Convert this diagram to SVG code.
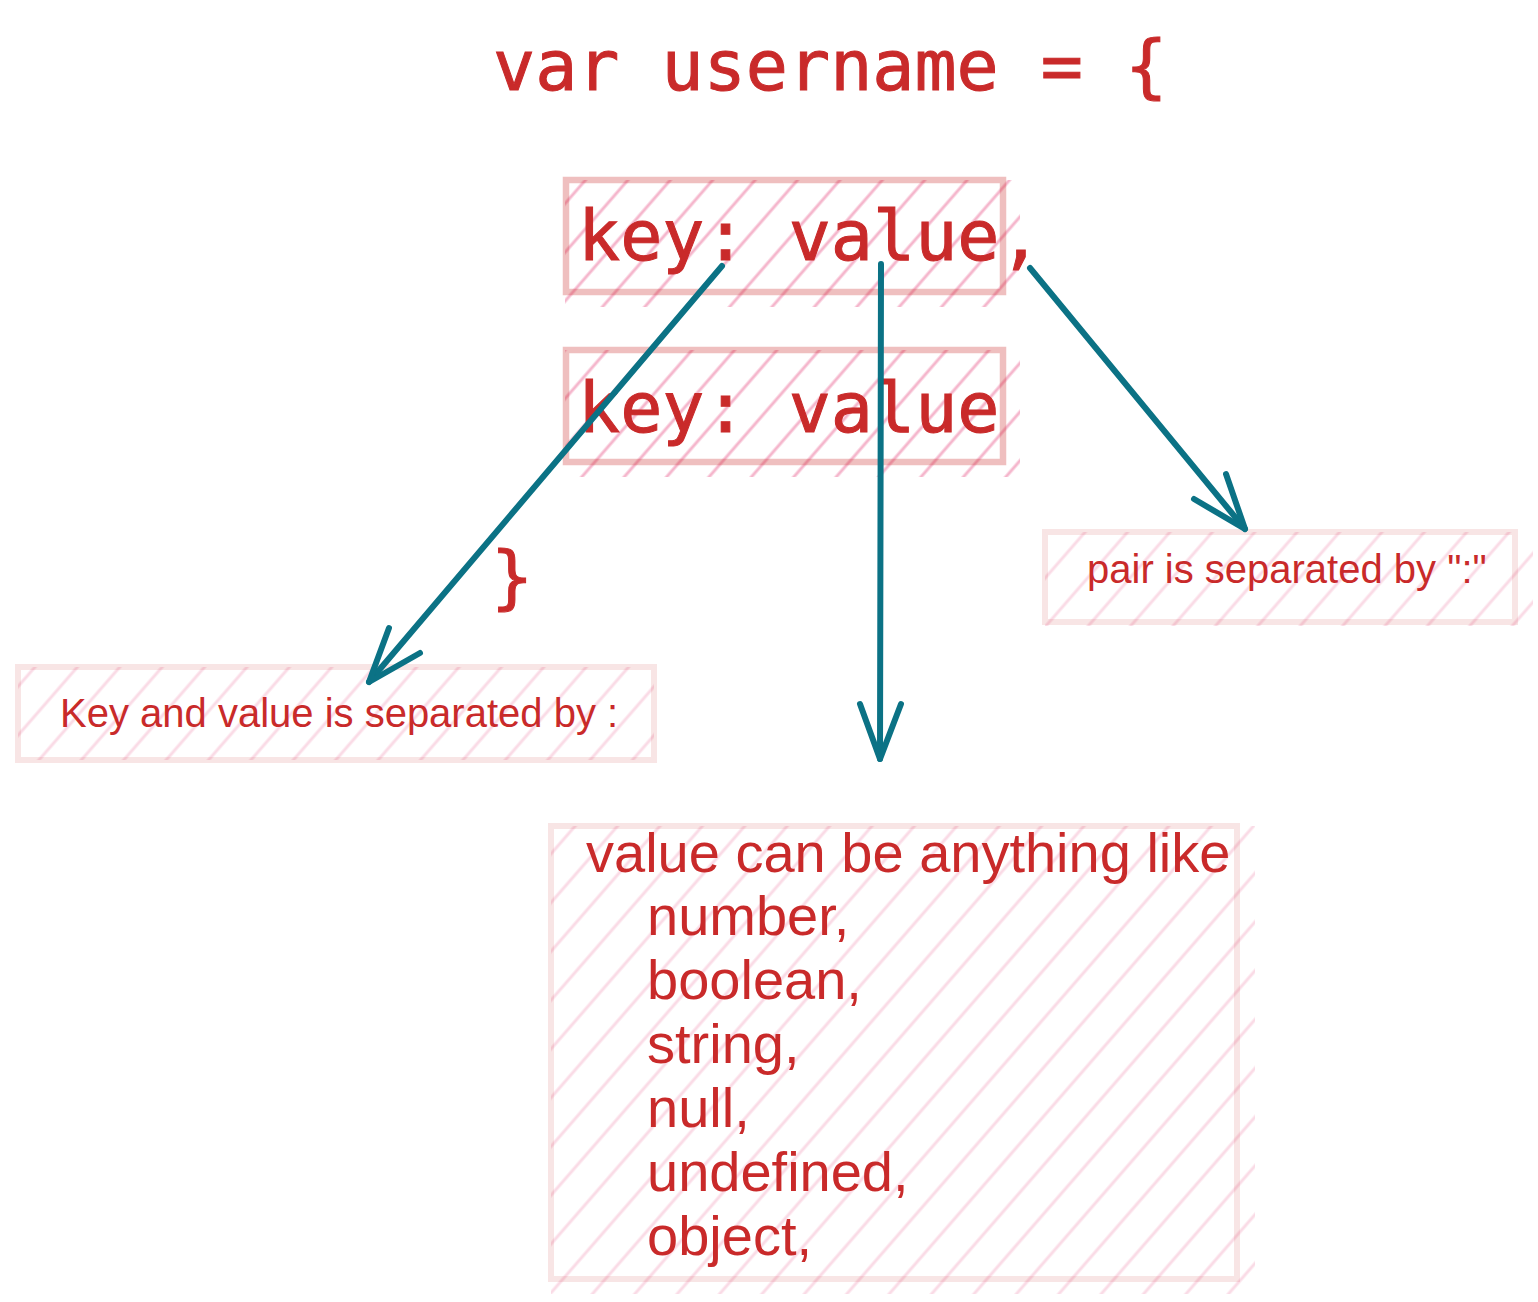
<svg xmlns="http://www.w3.org/2000/svg" width="1538" height="1302" viewBox="0 0 1538 1302">
<defs>
<pattern id="hatch" patternUnits="userSpaceOnUse" width="32" height="32" patternTransform="rotate(41)">
<line x1="16" y1="-10" x2="16" y2="42" stroke="#e64980" stroke-width="3"/>
</pattern>
</defs>
<style>
.code{font-family:"DejaVu Sans Mono","Liberation Mono",monospace;font-size:70px;fill:#c92a2a;stroke:#c92a2a;stroke-width:1}
.txt{font-family:"Liberation Sans",Arial,Helvetica,sans-serif;fill:#c92a2a}
.bstrong{fill:none;stroke:#c92a2a;stroke-opacity:0.3;stroke-width:6.5}
.bweak{fill:none;stroke:#c92a2a;stroke-opacity:0.12;stroke-width:6}
.hstrong{fill:url(#hatch);opacity:0.4}
.hweak{fill:url(#hatch);opacity:0.2}
.arr{fill:none;stroke:#0b7285;stroke-width:6;stroke-linecap:round;stroke-linejoin:round}
</style>
<rect width="1538" height="1302" fill="#ffffff"/>

<g id="title">
<text class="code" x="493" y="90">var username = {</text>
</g>

<g id="pair1">
<rect class="hstrong" x="565" y="180" width="455" height="127"/>
<rect class="bstrong" x="566" y="180" width="437" height="112"/>
<text class="code" x="578" y="260">key: value,</text>
</g>

<g id="pair2">
<rect class="hstrong" x="565" y="350" width="455" height="127"/>
<rect class="bstrong" x="566" y="350" width="437" height="112"/>
<text class="code" x="578" y="432">key: value</text>
</g>

<g id="closebrace">
<text class="code" x="491" y="601">}</text>
</g>

<g id="note-pair">
<rect class="hweak" x="1045" y="532" width="488" height="94"/>
<rect class="bweak" x="1045" y="532" width="470" height="90"/>
<text class="txt" x="1087" y="583" font-size="40">pair is separated by ":"</text>
</g>

<g id="note-key">
<rect class="hweak" x="18" y="667" width="636" height="93"/>
<rect class="bweak" x="18" y="667" width="636" height="93"/>
<text class="txt" x="60" y="727" font-size="40">Key and value is separated by :</text>
</g>

<g id="note-value">
<rect class="hweak" x="551" y="826" width="704" height="468"/>
<rect class="bweak" x="551" y="826" width="686" height="453"/>
<text class="txt" font-size="56">
<tspan x="586" y="872">value can be anything like</tspan>
<tspan x="647" y="935">number,</tspan>
<tspan x="647" y="999">boolean,</tspan>
<tspan x="647" y="1063">string,</tspan>
<tspan x="647" y="1127">null,</tspan>
<tspan x="647" y="1191">undefined,</tspan>
<tspan x="647" y="1255">object,</tspan>
</text>
</g>

<g id="connectors">
<path class="arr" d="M722,266 L369,682"/>
<path class="arr" d="M389,628 L369,682 L420,653"/>
<path class="arr" d="M881,264 L880,759"/>
<path class="arr" d="M860,704 L880,759 L901,704"/>
<path class="arr" d="M1030,268 L1245,529"/>
<path class="arr" d="M1194,499 L1245,529 L1226,474"/>
</g>
</svg>
